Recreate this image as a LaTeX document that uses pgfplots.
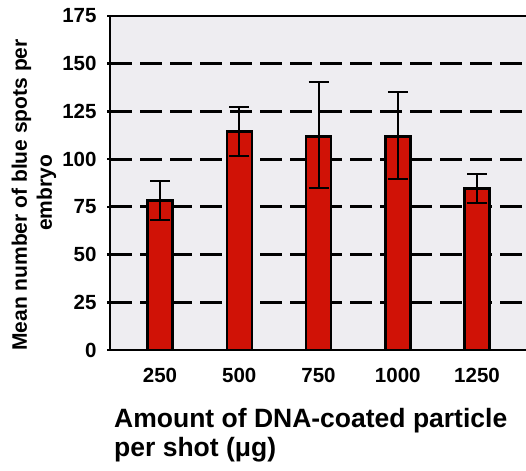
\documentclass[border=0pt]{standalone}
\usepackage{fontspec}
\setmainfont{Liberation Sans}
\usepackage{pgfplots}
\pgfplotsset{compat=1.18}
\definecolor{bgcol}{RGB}{238,237,241}
\definecolor{barred}{RGB}{208,18,6}
\begin{document}
\begin{tikzpicture}
\begin{axis}[
  scale only axis,
  width=416bp, height=334bp,
  xmin=0.369, xmax=5.618,
  ymin=0, ymax=175,
  axis x line*=bottom, axis y line*=left,
  axis line style={line width=2.5bp, -},
  axis background/.style={fill=bgcol},
  xtick={1,2,3,4,5},
  xticklabels={250,500,750,1000,1250},
  xtick style={draw=none},
  ytick={0,25,50,75,100,125,150,175},
  tick align=outside,
  ytick style={line width=2.5bp, black},
  major tick length=3bp,
  ymajorgrids,
  major grid style={line width=2.8bp, black, dash pattern=on 22bp off 8bp},
  /pgf/number format/assume math mode=true,
  tick label style={font=\bfseries\fontsize{20.5bp}{23bp}\selectfont},
  yticklabel style={xshift=-7bp},
  xticklabel style={yshift=-12bp},
  ybar, bar width=25bp,
  clip=false,
]
\addplot[fill=barred, draw=black, line width=2.5bp,
  error bars/.cd, y dir=both, y explicit,
  error bar style={line width=2bp, black},
  error mark options={rotate=90, mark size=10bp, line width=2bp, black}]
coordinates {
  (1,78.3) +- (0,10.0)
  (2,114.5) +- (0,12.7)
  (3,111.9) += (0,28.3) -= (0,27.1)
  (4,111.9) += (0,23.1) -= (0,22.1)
  (5,84.6) +- (0,7.6)
};
\draw[line width=2.5bp] (rel axis cs:0,1) -- (rel axis cs:1,1);
\end{axis}
\node[rotate=90, anchor=base, inner sep=0, font=\bfseries\fontsize{21bp}{24bp}\selectfont]
  at (-83bp,155bp) {Mean number of blue spots per};
\node[rotate=90, anchor=base, inner sep=0, font=\bfseries\fontsize{21bp}{24bp}\selectfont]
  at (-58bp,157bp) {embryo};
\node[anchor=base west, inner sep=0, font=\bfseries\fontsize{26.5bp}{30bp}\selectfont]
  at (4bp,-77bp) {Amount of DNA-coated particle};
\node[anchor=base west, inner sep=0, font=\bfseries\fontsize{26.5bp}{30bp}\selectfont]
  at (4bp,-106bp) {per shot (μg)};
\pgfresetboundingbox
\path (-110bp,-121bp) rectangle (416bp,350bp);
\end{tikzpicture}
\end{document}
